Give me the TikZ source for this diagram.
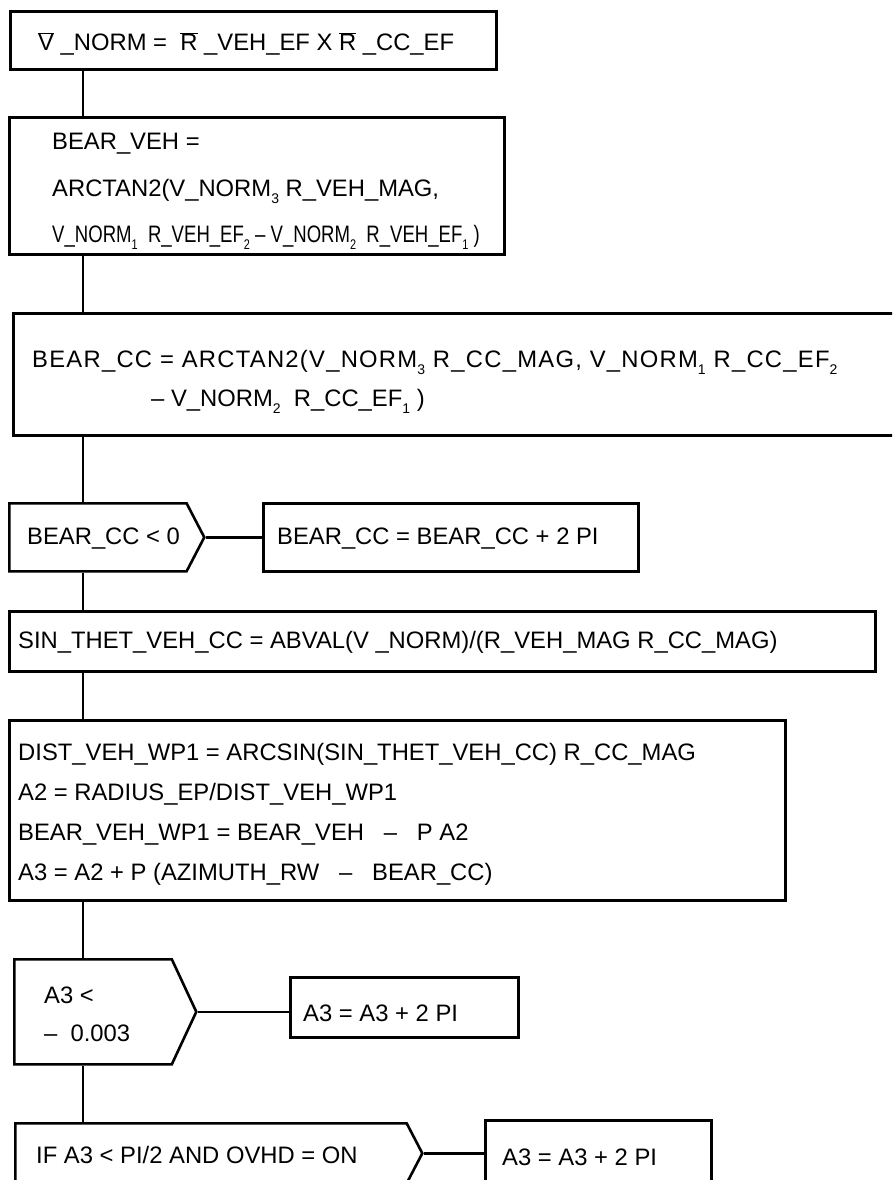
\documentclass[tikz,border=0pt]{standalone}
\usepackage{fontspec}
\setmainfont{Liberation Sans}
\newfontfamily\narrowfont[FakeStretch=0.78]{Liberation Sans}
\newfontfamily\spacedfont[LetterSpace=5.3]{Liberation Sans}
\usetikzlibrary{shapes.symbols, calc}

\newcommand{\lo}[1]{\raisebox{-7pt}{\fontsize{14}{14}\selectfont #1}}
\newcommand{\vbar}[1]{$\overline{\mbox{#1}}$}

\begin{document}
\begin{tikzpicture}[x=1pt, y=-1pt,
    font=\fontsize{23.8}{28}\selectfont,
    box/.style={draw, line width=2.6pt, rectangle, inner sep=0pt, anchor=north west},
    dec/.style={draw, line width=2.6pt, signal, signal to=east, signal pointer angle=125, inner sep=0pt, anchor=north west},
    txt/.style={inner sep=0pt, anchor=base west},
    lines/.style={inner sep=0pt, anchor=north west, align=left},
    link/.style={line width=2.4pt}]
    \useasboundingbox (0,0) rectangle (892,1180);
    \clip (0,0) rectangle (892,1180);
    \coordinate (spine) at (83,0);
    % cross product and bearings
    \node[box, minimum width=486pt, minimum height=58pt] (norm) at (9,10) {};
    \node[txt] (normtxt) at (38,50.5) {\vbar{V} \_NORM =~ \vbar{R} \_VEH\_EF X \vbar{R} \_CC\_EF};
    \node[box, minimum width=495pt, minimum height=137pt] (bveh) at (8,116) {};
    \node[lines, font=\fontsize{23.8}{46.5}\selectfont] (bvehtxt) at (52,133) {BEAR\_VEH =\\ ARCTAN2(V\_NORM\lo{3} R\_VEH\_MAG,\\ {\narrowfont V\_NORM\lo{1}~ R\_VEH\_EF\lo{2} – V\_NORM\lo{2}~ R\_VEH\_EF\lo{1} )}};
    \node[box, minimum width=900pt, minimum height=122pt] (bcc) at (12,312) {};
    \node[lines, font=\fontsize{23.8}{39}\selectfont] (bcctxt) at (32,350) {{\spacedfont BEAR\_CC = ARCTAN2(V\_NORM\lo{3} R\_CC\_MAG, V\_NORM\lo{1} R\_CC\_EF\lo{2}}\\ \phantom{BEAR\_CC }– V\_NORM\lo{2}~ R\_CC\_EF\lo{1} )};
    % wrap bearing
    \node[dec, minimum width=195pt, minimum height=68pt] (ccneg) at (8,502) {};
    \node[txt] (ccnegtxt) at (27,544.5) {BEAR\_CC < 0};
    \node[box, minimum width=375pt, minimum height=68pt] (ccfix) at (262,502) {};
    \node[txt] (ccfixtxt) at (277,544.5) {BEAR\_CC = BEAR\_CC + 2 PI};
    \node[box, minimum width=866pt, minimum height=60pt] (sinth) at (8,610) {};
    \node[txt] (sinthtxt) at (18,648.5) {SIN\_THET\_VEH\_CC = ABVAL(V \_NORM)/(R\_VEH\_MAG R\_CC\_MAG)};
    \node[box, minimum width=776pt, minimum height=180pt] (wp) at (8,719) {};
    \node[lines, font=\fontsize{23.8}{40}\selectfont] (wptxt) at (18,743) {DIST\_VEH\_WP1 = ARCSIN(SIN\_THET\_VEH\_CC) R\_CC\_MAG\\ A2 = RADIUS\_EP/DIST\_VEH\_WP1\\ BEAR\_VEH\_WP1 = BEAR\_VEH~~~–~~~P A2\\ A3 = A2 + P (AZIMUTH\_RW~~~–~~~BEAR\_CC)};
    % A3 checks
    \node[dec, signal pointer angle=130, minimum width=182pt, minimum height=105pt] (athr) at (13,958) {};
    \node[lines, font=\fontsize{23.8}{38}\selectfont] (athrtxt) at (44,986.5) {A3 <\\ –~~0.003};
    \node[box, minimum width=228pt, minimum height=60pt] (afix) at (289,976) {};
    \node[txt] (afixtxt) at (303,1021) {A3 = A3 + 2 PI};
    \node[dec, minimum width=407pt, minimum height=60pt] (ovhd) at (14,1122) {};
    \node[txt] (ovhdtxt) at (36,1163.5) {IF A3 < PI/2 AND OVHD = ON};
    \node[box, minimum width=226pt, minimum height=70pt] (ofix) at (484,1119) {};
    \node[txt] (ofixtxt) at (502,1165) {A3 = A3 + 2 PI};
    \foreach \a/\b in {norm/bveh, bveh/bcc, bcc/ccneg, ccneg/sinth, sinth/wp, wp/athr, athr/ovhd} {
        \draw[link] (\a.south -| spine) -- (\b.north -| spine);
    }
    \foreach \a/\b in {ccneg/ccfix, athr/afix, ovhd/ofix} {
        \draw[link] (\a.east) -- (\a.east -| \b.west);
    }
\end{tikzpicture}
\end{document}
